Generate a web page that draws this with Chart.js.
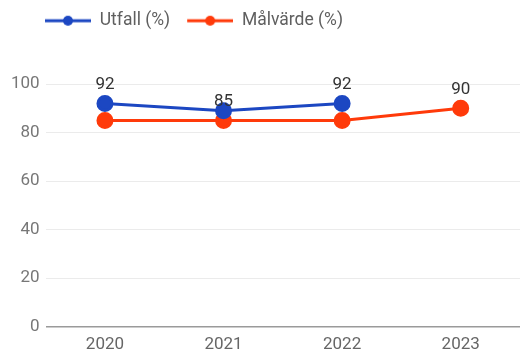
<!DOCTYPE html>
<html>
<head>
<meta charset="utf-8">
<script src="https://cdn.jsdelivr.net/npm/chart.js@4"></script>
<style>
  html, body { margin: 0; padding: 0; background: #fff; overflow: hidden; }
  canvas { display: block; }
</style>
</head>
<body>
<canvas id="chart" width="520" height="353"></canvas>
<script>
var years = ["2020", "2021", "2022", "2023"];
var utfall = [92, 89, 92, null];
var malvarde = [85, 85, 85, 90];
// the value labels printed above the lines, one per year
var annotations = [92, 85, 92, 90];
var yTicks = [0, 20, 40, 60, 80, 100];

var BLUE = "#1c47c2";
var RED = "#ff3a0a";

function legend_marker(color) {
    // blank gap on the left, then line with dot
    var c = document.createElement("canvas");
    c.width = 56; c.height = 14;
    var ctx = c.getContext("2d");
    ctx.strokeStyle = color;
    ctx.lineWidth = 3;
    ctx.beginPath(); ctx.moveTo(10, 7); ctx.lineTo(56, 7); ctx.stroke();
    ctx.fillStyle = color;
    ctx.beginPath(); ctx.arc(33, 7, 5, 0, Math.PI * 2); ctx.fill();
    return c;
}

var pointLabels = {
    id: "pointLabels",
    afterDatasetsDraw: function(chart) {
        var ctx = chart.ctx;
        var x = chart.scales.x, y = chart.scales.y;
        ctx.save();
        ctx.font = "17px Roboto";
        ctx.fillStyle = "#333";
        ctx.textAlign = "center";
        ctx.textBaseline = "alphabetic";
        annotations.forEach(function(v, i) {
            ctx.fillText(String(v), x.getPixelForValue(i), y.getPixelForValue(v) - 14);
        });
        ctx.restore();
    }
};

var legendSpace = {
    id: "legendSpace",
    beforeInit: function(chart) {
        var fit = chart.legend.fit;
        chart.legend.fit = function() {
            fit.bind(chart.legend)();
            this.height += 49.5;
        };
    },
    afterLayout: function(chart) {
        chart.legend.left += 23;
        chart.legend.right += 23;
        chart.legend.top += 5;
    }
};

new Chart(document.getElementById("chart"), {
    type: "line",
    data: {
        labels: years,
        datasets: [{
            label: "Utfall (%)",
            data: utfall,
            borderColor: BLUE,
            backgroundColor: BLUE,
            borderWidth: 3,
            pointRadius: 7,
            pointHoverRadius: 7,
            fill: false
        }, {
            label: "Målvärde (%)",
            data: malvarde,
            borderColor: RED,
            backgroundColor: RED,
            borderWidth: 3,
            pointRadius: 7,
            pointHoverRadius: 7,
            fill: false
        }]
    },
    options: {
        responsive: false,
        animation: false,
        layout: { autoPadding: false, padding: { left: 5, right: -2, top: 0, bottom: -10 } },
        plugins: {
            tooltip: { enabled: false },
            legend: {
                position: "top",
                align: "start",
                labels: {
                    font: { family: "Roboto", size: 17.5 },
                    color: "#5f5f5f",
                    padding: 7,
                    usePointStyle: true,
                    pointStyleWidth: 56,
                    generateLabels: function(chart) {
                        return chart.data.datasets.map(function(ds, i) {
                            return {
                                text: ds.label,
                                fontColor: "#5f5f5f",
                                pointStyle: legend_marker(ds.borderColor),
                                datasetIndex: i,
                                hidden: false,
                                lineWidth: 0
                            };
                        });
                    }
                }
            }
        },
        scales: {
            x: {
                offset: true,
                grid: { display: false, drawTicks: false },
                border: { display: false },
                ticks: { font: { family: "Roboto", size: 17 }, color: "#666", padding: 8 }
            },
            y: {
                min: 0,
                max: 100,
                afterBuildTicks: function(axis) {
                    axis.ticks = yTicks.map(function(v) { return { value: v }; });
                },
                grid: {
                    drawTicks: false,
                    color: function(ctx) { return ctx.tick && ctx.tick.value === 0 ? "#9a9a9a" : "#ebebeb"; },
                    lineWidth: function(ctx) { return ctx.tick && ctx.tick.value === 0 ? 1.5 : 1; }
                },
                border: { display: false },
                ticks: { font: { family: "Roboto", size: 17 }, color: "#777", padding: 6 }
            }
        }
    },
    plugins: [pointLabels, legendSpace]
});
</script>
</body>
</html>
